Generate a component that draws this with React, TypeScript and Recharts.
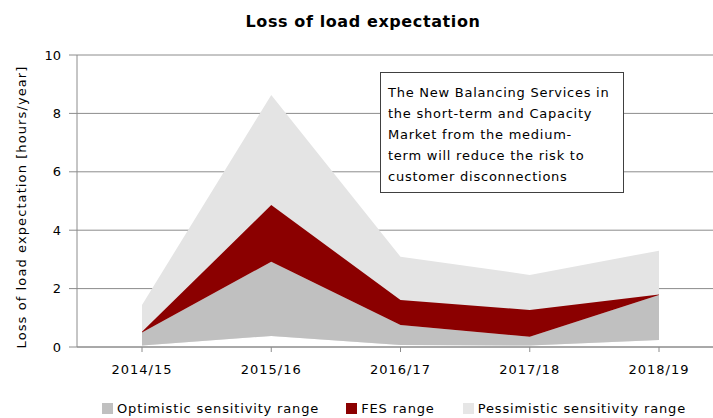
import { Area, AreaChart, CartesianGrid, Legend, XAxis, YAxis } from "recharts";

const years = ["2014/15", "2015/16", "2016/17", "2017/18", "2018/19"];
const optimisticLow = [0.05, 0.38, 0.07, 0.05, 0.24];
const optimisticHigh = [0.5, 2.92, 0.75, 0.35, 1.78];
const fesHigh = [0.52, 4.86, 1.61, 1.27, 1.8];
const pessimisticHigh = [1.44, 8.63, 3.09, 2.47, 3.3];
const yTicks = [0, 2, 4, 6, 8, 10];

const legendItems = [
  { name: "Optimistic sensitivity range", color: "#c0c0c0" },
  { name: "FES range", color: "#8b0000" },
  { name: "Pessimistic sensitivity range", color: "#e6e6e6" },
];

const noteLines = [
  "The New Balancing Services in",
  "the short-term and Capacity",
  "Market from the medium-",
  "term will reduce the risk to",
  "customer disconnections",
];

const data = years.map((year, i) => ({
  year,
  optimistic: [optimisticLow[i], optimisticHigh[i]],
  fes: [optimisticHigh[i], fesHigh[i]],
  pessimistic: [optimisticLow[i], pessimisticHigh[i]],
}));

const font = "'DejaVu Sans', sans-serif";
const gapAfter = [27, 28, 0];

const ChartLegend = () => (
  <div
    style={{
      height: 41,
      paddingTop: 21,
      boxSizing: "border-box",
      display: "flex",
      fontFamily: font,
      fontSize: 13,
      letterSpacing: 0.85,
      lineHeight: "13px",
      color: "#000",
    }}
  >
    {legendItems.map((item, i) => (
      <div key={item.name} style={{ display: "flex", alignItems: "center", marginRight: gapAfter[i] }}>
        <span style={{ width: 11, height: 11, background: item.color, marginRight: 4, display: "inline-block" }} />
        <span>{item.name}</span>
      </div>
    ))}
  </div>
);

const AxisTitle = ({ viewBox }: { viewBox?: { x: number; y: number; width: number; height: number } }) => {
  if (!viewBox) return null;
  const cx = 26;
  const cy = viewBox.y + viewBox.height / 2 + 6;
  return (
    <text
      x={cx}
      y={cy}
      transform={`rotate(-90 ${cx} ${cy})`}
      textAnchor="middle"
      fill="#000"
      fontSize={13}
      fontFamily={font}
      letterSpacing={1.1}
    >
      Loss of load expectation [hours/year]
    </text>
  );
};

export default function App() {
  return (
    <div style={{ position: "relative", width: 713, height: 418, background: "#fff", overflow: "hidden" }}>
      <style>{`body{margin:0}`}</style>
      <div
        style={{
          position: "absolute",
          top: 11,
          left: 213,
          width: 300,
          textAlign: "center",
          fontFamily: font,
          fontWeight: "bold",
          fontSize: 16,
          letterSpacing: 0.6,
          lineHeight: "22px",
        }}
      >
        Loss of load expectation
      </div>
      <AreaChart width={713} height={418} data={data} margin={{ top: 55, right: 0, bottom: 0, left: 0 }}>
        <CartesianGrid vertical={false} stroke="#8c8c8c" />
        <XAxis
          dataKey="year"
          padding={{ left: 65, right: 54 }}
          height={30}
          tickSize={5}
          tickMargin={13}
          tick={{ fill: "#000", fontSize: 13, fontFamily: font, letterSpacing: 1 }}
          axisLine={{ stroke: "#8c8c8c" }}
          tickLine={{ stroke: "#8c8c8c" }}
        />
        <YAxis
          width={77}
          domain={[0, 10]}
          ticks={yTicks}
          tickSize={8}
          tickMargin={8}
          tick={{ fill: "#000", fontSize: 13, fontFamily: font }}
          axisLine={{ stroke: "#8c8c8c" }}
          tickLine={{ stroke: "#8c8c8c" }}
          label={<AxisTitle />}
        />
        <Legend verticalAlign="bottom" align="left" wrapperStyle={{ left: 102 }} content={<ChartLegend />} />
        <Area
          type="linear"
          dataKey="pessimistic"
          fill="#e4e4e4"
          fillOpacity={1}
          stroke="none"
          isAnimationActive={false}
        />
        <Area
          type="linear"
          dataKey="optimistic"
          fill="#c0c0c0"
          fillOpacity={1}
          stroke="none"
          isAnimationActive={false}
        />
        <Area
          type="linear"
          dataKey="fes"
          fill="#8b0000"
          fillOpacity={1}
          stroke="none"
          isAnimationActive={false}
        />
      </AreaChart>
      <div
        style={{
          position: "absolute",
          left: 380,
          top: 72,
          width: 244,
          height: 121,
          boxSizing: "border-box",
          border: "1px solid #404040",
          background: "#fff",
          padding: "9px 0 0 7px",
          fontFamily: font,
          fontSize: 13,
          letterSpacing: 0.75,
          lineHeight: "21px",
          whiteSpace: "nowrap",
        }}
      >
        {noteLines.map((line) => (
          <div key={line}>{line}</div>
        ))}
      </div>
    </div>
  );
}
